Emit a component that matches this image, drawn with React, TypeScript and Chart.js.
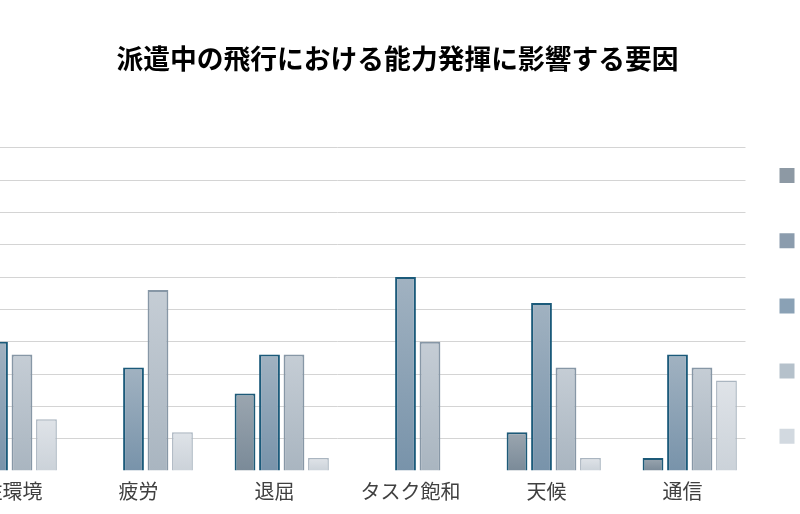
import React, { useEffect, useRef } from "react";
import { Chart, registerables } from "chart.js";

Chart.register(...registerables);

// ---- data ----
const categories = ["居住環境", "疲労", "退屈", "タスク飽和", "天候", "通信"];

const seriesLabels: string[][] = [
  ["能力発揮に非常に大きな", "影響があった"],
  ["能力発揮に大きな", "影響があった"],
  ["能力発揮にある程度の", "影響があった"],
  ["能力発揮にわずかな", "影響があった"],
  ["能力発揮への", "影響はなかった"],
];

// percentage of respondents
const levelVeryLarge = [0, 0, 0, 0, 0, 0];
const levelLarge = [8, 0, 24, 0, 12, 4];
const levelModerate = [40, 32, 36, 60, 52, 36];
const levelSlight = [36, 56, 36, 40, 32, 32];
const levelNone = [16, 12, 4, 0, 4, 28];

const yMin = 0;
const yMax = 100;
const yStep = 10;

const titleText = "派遣中の飛行における能力発揮に影響する要因";
const xTitleText = "要因";
const yTitleText = "回答者の割合（%）";

// ---- styles ----
const legendColors = ["#8d99a4", "#8b9cad", "#8aa1b5", "#b5c1cb", "#d2d9e0"];
const gradTop = ["#9aa5af", "#9ba6b0", "#a1b2c1", "#c5cdd5", "#dfe3e8"];
const gradBottom = ["#7e8c98", "#7a8a98", "#7893aa", "#a9b5c0", "#cbd2d9"];
const borderColors = ["#1d5a78", "#1d5a78", "#1b5a7a", "#8797a6", "#aab5c0"];
const borderWidths = [2, 2, 2, 2, 1.5];

const FONT = "'Noto Sans CJK JP', 'Noto Sans', sans-serif";

const CANVAS_W = 1097;
const CANVAS_H = 628;
const CANVAS_LEFT = -151;

function gradientFill(i: number) {
  return (ctx: any) => {
    const chart = ctx.chart;
    const yScale = chart.scales && chart.scales.y;
    if (ctx.type !== "data" || !yScale || !ctx.parsed) return gradTop[i];
    const v = ctx.parsed.y;
    const y0 = yScale.getPixelForValue(0);
    const y1 = yScale.getPixelForValue(v);
    if (!isFinite(y0) || !isFinite(y1) || Math.abs(y0 - y1) < 1) return gradTop[i];
    const g = chart.ctx.createLinearGradient(0, y1, 0, y0);
    g.addColorStop(0, gradTop[i]);
    g.addColorStop(1, gradBottom[i]);
    return g;
  };
}

export default function App() {
  const ref = useRef<HTMLCanvasElement | null>(null);

  useEffect(() => {
    if (!ref.current) return;
    Chart.defaults.font.family = FONT;
    const series = [levelVeryLarge, levelLarge, levelModerate, levelSlight, levelNone];
    const chart = new Chart(ref.current, {
      type: "bar",
      data: {
        labels: categories,
        datasets: series.map((d, i) => ({
          label: seriesLabels[i].join(""),
          data: d,
          backgroundColor: gradientFill(i),
          borderColor: borderColors[i],
          borderWidth: borderWidths[i],
          categoryPercentage: 0.9,
          barPercentage: 0.85,
          inflateAmount: 0,
        })),
      },
      options: {
        responsive: false,
        animation: false,
        devicePixelRatio: 1,
        layout: { padding: 0 },
        plugins: {
          title: {
            display: true,
            text: titleText,
            color: "#000000",
            font: { family: FONT, size: 26.75, weight: "bold" },
            padding: { top: 42.9, bottom: 72.7 },
          },
          legend: {
            display: true,
            position: "right",
            align: "center",
            maxWidth: 200.5,
            labels: {
              boxWidth: 15,
              boxHeight: 15,
              padding: 34,
              color: "#404040",
              font: { family: FONT, size: 13 },
              generateLabels: (c: any) => {
                const items = (Chart.defaults.plugins.legend.labels as any).generateLabels(c);
                return items.map((it: any, i: number) => ({
                  ...it,
                  text: seriesLabels[i],
                  fillStyle: legendColors[i],
                  strokeStyle: legendColors[i],
                  lineWidth: 0,
                  borderRadius: 0,
                }));
              },
            },
          },
          tooltip: { enabled: false },
        },
        scales: {
          x: {
            grid: { display: false },
            border: { display: false },
            ticks: {
              color: "#404040",
              font: { family: FONT, size: 20 },
              maxRotation: 0,
              autoSkip: false,
              padding: 0,
              labelOffset: 5,
            },
            title: {
              display: true,
              text: xTitleText,
              color: "#404040",
              font: { family: FONT, size: 20 },
              padding: { top: 60, bottom: 41 },
            },
          },
          y: {
            min: yMin,
            max: yMax,
            ticks: { stepSize: yStep, color: "#404040", font: { family: FONT, size: 20 } },
            grid: {
              color: (ctx: any) => (ctx.tick && ctx.tick.value === 0 ? "rgba(0,0,0,0)" : "#d4d4d4"),
              lineWidth: 1,
            },
            border: { display: false },
            title: {
              display: true,
              text: yTitleText,
              color: "#404040",
              font: { family: FONT, size: 18 },
            },
            afterFit: (scale: any) => {
              scale.width = 80.5;
            },
          },
        },
      },
    } as any);
    return () => chart.destroy();
  }, []);

  return (
    <div
      style={{
        position: "fixed",
        left: 0,
        top: 0,
        width: 800,
        height: 514,
        overflow: "hidden",
        background: "#ffffff",
      }}
    >
      <div style={{ position: "absolute", left: CANVAS_LEFT, top: 0, width: CANVAS_W, height: CANVAS_H }}>
        <canvas ref={ref} width={CANVAS_W} height={CANVAS_H} style={{ width: CANVAS_W, height: CANVAS_H, display: "block" }} />
      </div>
    </div>
  );
}
